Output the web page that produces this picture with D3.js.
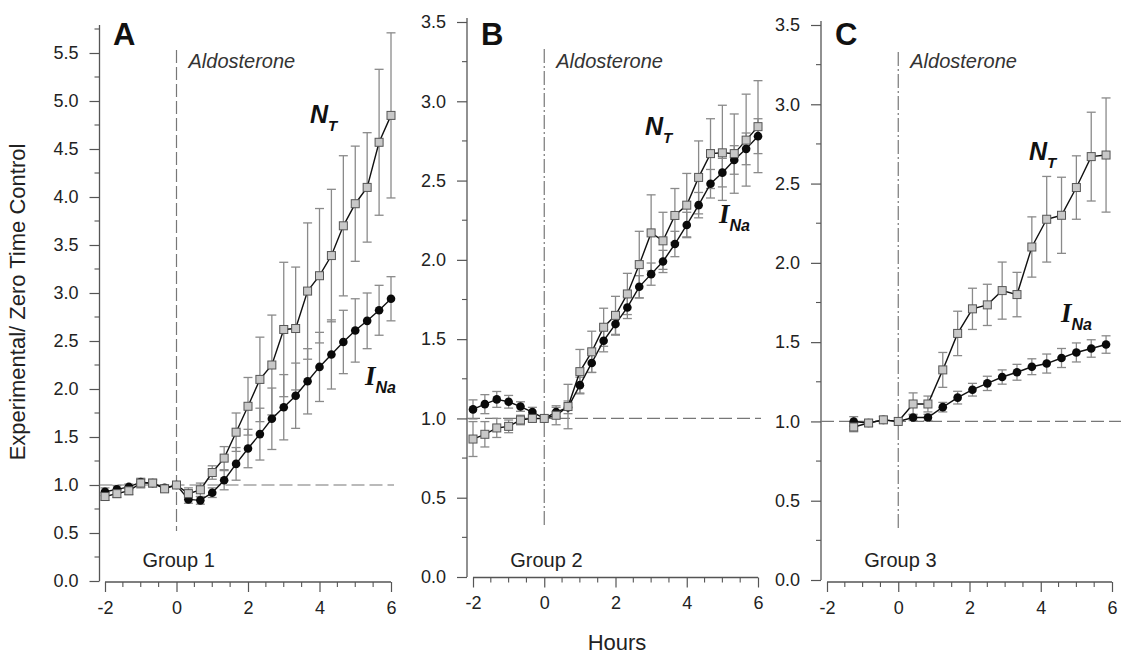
<!DOCTYPE html>
<html><head><meta charset="utf-8">
<script src="https://cdn.jsdelivr.net/npm/d3@7"></script>
<style>
html,body{margin:0;padding:0;background:#fff;}
svg{display:block;font-family:Arial,"Liberation Sans",Helvetica,sans-serif;}
</style></head>
<body>
<svg id="chart" width="1121" height="656"></svg>
<script>
// ---------------- DATA ----------------
const timesAB = [-2,-1.667,-1.333,-1,-0.667,-0.333,0,0.333,0.667,1,1.333,1.667,2,2.333,2.667,3,3.333,3.667,4,4.333,4.667,5,5.333,5.667,6];
const timesC  = [-1.25,-0.833,-0.417,0,0.417,0.833,1.25,1.667,2.083,2.5,2.917,3.333,3.75,4.167,4.583,5,5.417,5.833];

const inaA    = [0.93,0.955,0.98,1.03,1.02,0.97,1.0,0.85,0.84,0.92,1.05,1.22,1.38,1.53,1.69,1.81,1.93,2.08,2.23,2.36,2.49,2.61,2.71,2.82,2.94];
const inaAErr = [0.04,0.04,0.03,0.03,0.03,0.03,0.0,0.04,0.04,0.05,0.1,0.17,0.2,0.27,0.32,0.34,0.34,0.34,0.36,0.36,0.33,0.33,0.29,0.26,0.23];
const ntA     = [0.88,0.91,0.94,1.02,1.02,0.96,1.0,0.91,0.95,1.13,1.28,1.55,1.82,2.10,2.25,2.62,2.63,3.02,3.18,3.39,3.70,3.93,4.10,4.57,4.85];
const ntAErr  = [0.04,0.04,0.04,0.05,0.04,0.03,0.0,0.06,0.07,0.07,0.12,0.2,0.3,0.44,0.52,0.7,0.64,0.71,0.7,0.69,0.73,0.6,0.57,0.76,0.86];

const inaB    = [1.057,1.09,1.12,1.105,1.075,1.04,1.0,1.04,1.07,1.21,1.35,1.49,1.595,1.70,1.83,1.91,1.99,2.10,2.22,2.345,2.48,2.55,2.63,2.70,2.78];
const inaBErr = [0.06,0.06,0.05,0.04,0.03,0.03,0,0.03,0.04,0.05,0.06,0.07,0.07,0.07,0.07,0.07,0.07,0.08,0.08,0.08,0.09,0.09,0.09,0.1,0.11];
const ntB     = [0.87,0.90,0.94,0.95,0.99,1.0,1.0,1.02,1.075,1.295,1.42,1.575,1.65,1.785,1.97,2.17,2.12,2.28,2.345,2.52,2.67,2.675,2.67,2.755,2.84];
const ntBErr  = [0.11,0.08,0.06,0.04,0.03,0.02,0,0.06,0.14,0.14,0.13,0.12,0.12,0.13,0.21,0.24,0.18,0.17,0.2,0.23,0.22,0.3,0.25,0.29,0.29];

const inaC    = [1.0,0.99,1.01,1.0,1.025,1.025,1.09,1.15,1.20,1.24,1.28,1.31,1.345,1.365,1.40,1.435,1.46,1.485];
const inaCErr = [0.03,0.02,0.02,0,0.02,0.02,0.03,0.04,0.04,0.045,0.045,0.05,0.05,0.06,0.06,0.06,0.055,0.055];
const ntC     = [0.965,0.99,1.01,1.0,1.11,1.11,1.325,1.555,1.71,1.735,1.825,1.80,2.10,2.275,2.30,2.475,2.67,2.68];
const ntCErr  = [0.03,0.02,0.02,0,0.07,0.05,0.11,0.14,0.13,0.13,0.18,0.14,0.19,0.27,0.24,0.2,0.28,0.36];

const panelLetters = ["A","B","C"];
const groupLabels  = ["Group 1","Group 2","Group 3"];
const xTicks       = [-2,0,2,4,6];
const xTickLabels  = ["-2","0","2","4","6"];
const yTicksA      = [0,0.5,1,1.5,2,2.5,3,3.5,4,4.5,5,5.5];
const yTicksBC     = [0,0.5,1,1.5,2,2.5,3,3.5];
const eventLabel   = "Aldosterone";
const xTitle       = "Hours";
const yTitle       = "Experimental/ Zero Time Control";

// ---------------- LAYOUT ----------------
const panels = [
  {letter:panelLetters[0], group:groupLabels[0], times:timesAB, ina:inaA, inaErr:inaAErr, nt:ntA, ntErr:ntAErr,
   xL:105, xR:391, yAxisX:99.5, y0:581, yTop:29, yMax:5.75, yTicks:yTicksA, xAxisY:582,
   ntLab:[310,123], inaLab:[365,385]},
  {letter:panelLetters[1], group:groupLabels[1], times:timesAB, ina:inaB, inaErr:inaBErr, nt:ntB, ntErr:ntBErr,
   xL:473, xR:758, yAxisX:467, y0:577, yTop:22, yMax:3.5, yTicks:yTicksBC, xAxisY:577.5,
   ntLab:[645,135], inaLab:[719,223]},
  {letter:panelLetters[2], group:groupLabels[2], times:timesC, ina:inaC, inaErr:inaCErr, nt:ntC, ntErr:ntCErr,
   xL:827, xR:1112, yAxisX:821, y0:580, yTop:25, yMax:3.5, yTicks:yTicksBC, xAxisY:582,
   ntLab:[1029,160], inaLab:[1061,322]}
];

const svg = d3.select("#chart");
const axisCol = "#555", textCol = "#222", errCol = "#8a8a8a";

panels.forEach(p => {
  const x = d3.scaleLinear().domain([-2,6]).range([p.xL,p.xR]);
  const y = d3.scaleLinear().domain([0,p.yMax]).range([p.y0,p.yTop]);
  const g = svg.append("g");

  // y axis
  const yMinor = d3.range(0, p.yMax+0.001, 0.25);
  const yAx = g.append("g").attr("transform",`translate(${p.yAxisX},0)`)
    .call(d3.axisLeft(y).tickValues(p.yTicks).tickFormat(d3.format(".1f")).tickSize(10).tickPadding(11));
  yAx.select(".domain").attr("stroke",axisCol).attr("stroke-width",1.3).attr("d",`M0,${p.y0}V${p.yTop-4}`);
  yAx.selectAll(".tick line").attr("stroke",axisCol).attr("stroke-width",1.2);
  yAx.selectAll(".tick text").attr("fill",textCol).style("font-size","18px").style("font-family","Arial, Liberation Sans, sans-serif");
  g.append("g").selectAll("line").data(yMinor.filter(v=>!p.yTicks.some(t=>Math.abs(t-v)<1e-6)))
    .join("line").attr("x1",p.yAxisX-5).attr("x2",p.yAxisX).attr("y1",d=>y(d)).attr("y2",d=>y(d))
    .attr("stroke",axisCol).attr("stroke-width",1.1);

  // x axis
  const xAx = g.append("g").attr("transform",`translate(0,${p.xAxisY})`)
    .call(d3.axisBottom(x).tickValues(xTicks).tickFormat((d,i)=>xTickLabels[i]).tickSize(10).tickPadding(9));
  xAx.select(".domain").attr("stroke",axisCol).attr("stroke-width",1.3).attr("d",`M${p.xL},0H${p.xR}`);
  xAx.selectAll(".tick line").attr("stroke",axisCol).attr("stroke-width",1.2);
  xAx.selectAll(".tick text").attr("fill",textCol).style("font-size","18px").style("font-family","Arial, Liberation Sans, sans-serif");
  const xMinor = d3.range(-2, 6.001, 0.5).filter(v=>!xTicks.includes(v));
  g.append("g").selectAll("line").data(xMinor).join("line")
    .attr("x1",d=>x(d)).attr("x2",d=>x(d)).attr("y1",p.xAxisY).attr("y2",p.xAxisY+5)
    .attr("stroke",axisCol).attr("stroke-width",1.1);

  // reference dashed lines
  g.append("line").attr("x1",p.yAxisX).attr("x2", p.letter==="C"?1121:p.xR+3)
    .attr("y1",y(1)).attr("y2",y(1)).attr("stroke","#777").attr("stroke-width",1.2).attr("stroke-dasharray","13,5");
  g.append("line").attr("x1",x(0)).attr("x2",x(0)).attr("y1",p.yTop+21+ (p.letter==="A"?0:6)).attr("y2",p.y0-50)
    .attr("stroke","#777").attr("stroke-width",1.2)
    .attr("stroke-dasharray", p.letter==="A" ? "13,4" : "14,3,2,3");

  // texts
  g.append("text").attr("x",p.xL+8).attr("y",45).text(p.letter)
    .style("font-size","31px").style("font-weight","bold").attr("fill","#111");
  g.append("text").attr("x",x(0)+12).attr("y",68).text(eventLabel)
    .style("font-size","20px").style("font-style","italic").attr("fill","#333");
  g.append("text").attr("x",x(0)-34).attr("y",567).text(p.group)
    .style("font-size","20px").attr("fill","#222");

  // error bars
  const drawErr = (vals, errs) => {
    const eg = g.append("g");
    vals.forEach((v,i)=>{
      const e = errs[i]; if(!e) return;
      const cx = x(p.times[i]);
      eg.append("line").attr("x1",cx).attr("x2",cx).attr("y1",y(v+e)).attr("y2",y(v-e))
        .attr("stroke",errCol).attr("stroke-width",1.3);
      [v+e, v-e].forEach(w=>eg.append("line").attr("x1",cx-4.5).attr("x2",cx+4.5).attr("y1",y(w)).attr("y2",y(w))
        .attr("stroke",errCol).attr("stroke-width",1.3));
    });
  };
  drawErr(p.ina, p.inaErr);
  drawErr(p.nt, p.ntErr);

  const line = d3.line().x((d,i)=>x(p.times[i])).y(d=>y(d));
  g.append("path").datum(p.ina).attr("d",line).attr("fill","none").attr("stroke","#111").attr("stroke-width",1.4);
  g.append("path").datum(p.nt).attr("d",line).attr("fill","none").attr("stroke","#111").attr("stroke-width",1.4);

  g.append("g").selectAll("circle").data(p.ina).join("circle")
    .attr("cx",(d,i)=>x(p.times[i])).attr("cy",d=>y(d)).attr("r",4.3).attr("fill","#0a0a0a");
  g.append("g").selectAll("rect").data(p.nt).join("rect")
    .attr("x",(d,i)=>x(p.times[i])-4).attr("y",d=>y(d)-4).attr("width",8).attr("height",8)
    .attr("fill","#c8c8c8").attr("stroke","#555").attr("stroke-width",1);

  // series labels
  const nt = g.append("text").attr("x",p.ntLab[0]).attr("y",p.ntLab[1])
    .style("font-size","25px").style("font-weight","bold").style("font-style","italic").attr("fill","#111");
  nt.append("tspan").text("N");
  nt.append("tspan").text("T").attr("dy",8).style("font-size","15px");
  const ina = g.append("text").attr("x",p.inaLab[0]).attr("y",p.inaLab[1])
    .style("font-weight","bold").style("font-style","italic").attr("fill","#111");
  ina.append("tspan").text("I").style("font-family","Liberation Serif, Times New Roman, serif").style("font-size","27px");
  ina.append("tspan").text("Na").attr("dy",8).style("font-size","16px");
});

// axis titles
svg.append("text").attr("x",617).attr("y",650).attr("text-anchor","middle").text(xTitle)
  .style("font-size","22px").attr("fill","#222");
svg.append("text").attr("transform","translate(25,302) rotate(-90)").attr("text-anchor","middle").text(yTitle)
  .style("font-size","22px").attr("fill","#222");
</script>
</body></html>
